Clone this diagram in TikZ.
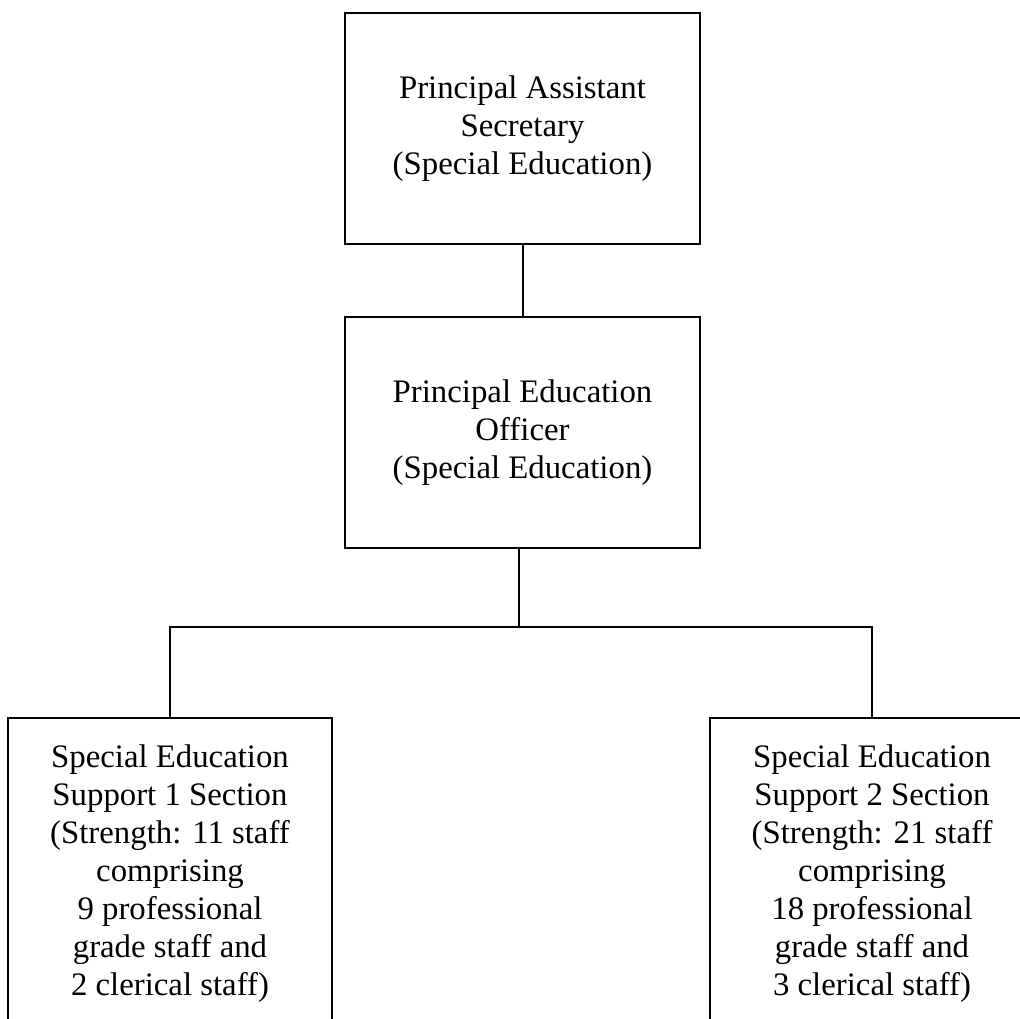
\documentclass[tikz,border=0pt]{standalone}
\usepackage{fontspec}
\setmainfont{Liberation Serif}

\begin{document}
\begin{tikzpicture}[
  x=1pt, y=-1pt,
  post/.style={draw,line width=2pt,align=center,inner sep=0,
    minimum width=355pt,minimum height=231pt,
    font=\fontsize{32.8}{38}\selectfont},
  section/.style={post,minimum width=324pt,minimum height=313pt},
  link/.style={line width=1.3pt},
  stem/.style={line width=2pt}
  ]

  \useasboundingbox (0, 0) rectangle (1020, 1019);
  \clip (0, 0) rectangle (1020, 1019);


  \node [post] (pas) at (522.5, 128.5) {Principal Assistant\\Secretary\\(Special Education)};
  \node [post] (peo) at (522.5, 432.5) {Principal Education\\Officer\\(Special Education)};

  \node [section] (sec1) at (170, 874) {Special Education\\Support 1 Section\\(Strength: 11 staff\\comprising\\9 professional\\grade staff and\\2 clerical staff)};
  \node [section] (sec2) at (872, 874) {Special Education\\Support 2 Section\\(Strength: 21 staff\\comprising\\18 professional\\grade staff and\\3 clerical staff)};


  \coordinate (split) at (519, 627);
  \draw [stem] (pas.south) -- (peo.north);
  \draw [stem] (peo.south -| split) -- (split);
  \draw [link] (sec1.north) |- (split) -| (sec2.north);


\end{tikzpicture}
\end{document}
